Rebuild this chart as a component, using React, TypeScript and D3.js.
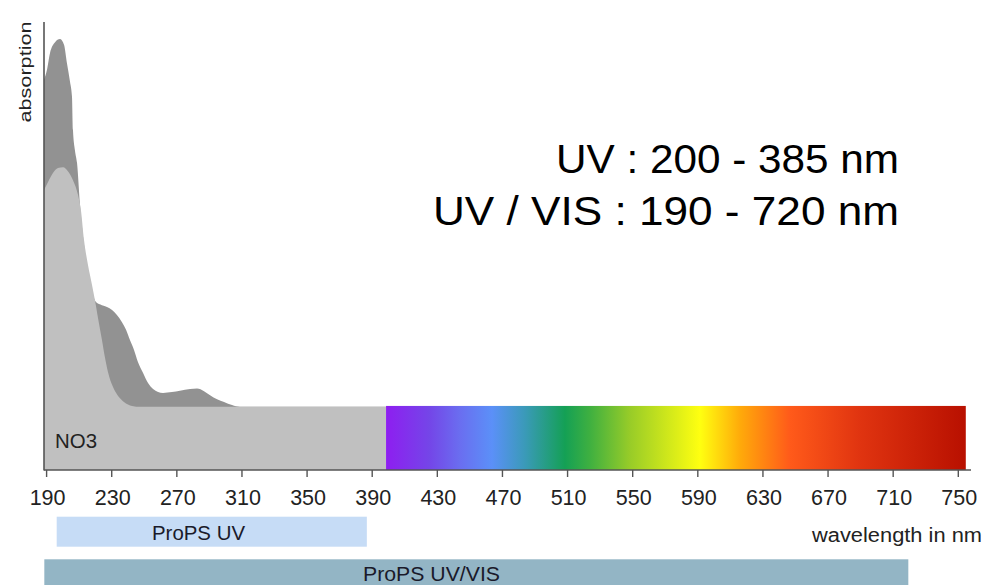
import React from "react";
import * as d3 from "d3";

const W = 985;
const H = 585;

// X axis tick labels (wavelength, nm)
const tickValues = [190, 230, 270, 310, 350, 390, 430, 470, 510, 550, 590, 630, 670, 710, 750];

// Outer (dark) absorption curve
const darkWavelengths = [188.4, 190.2, 192.1, 195.2, 198.2, 200.7, 202.5, 204.4, 205.6, 206.2, 207.4, 208.7, 210.5, 213.0, 215.4, 217.9, 220.3, 224.0, 227.1, 230.2, 233.2, 236.3, 238.8, 241.2, 243.7, 246.1, 249.2, 252.3, 255.4, 261.5, 267.0, 271.9, 278.1, 282.4, 286.7, 290.4, 294.7, 299.0, 303.9, 308.8, 398.5];
const darkAbsorption = [87.1, 89.3, 93.1, 95.5, 96.2, 94.9, 90.8, 86.6, 83.3, 75.9, 71.4, 68.5, 59.2, 50.2, 43.5, 39.7, 37.5, 36.8, 36.4, 35.7, 34.6, 33.0, 31.3, 29.0, 26.8, 24.1, 21.7, 19.4, 18.1, 17.2, 17.4, 17.7, 18.1, 18.2, 17.6, 16.7, 15.8, 15.2, 14.5, 14.1, 14.1];

// Inner (light, NO3) absorption curve
const lightWavelengths = [188.4, 190.9, 193.9, 197.0, 200.1, 203.1, 206.2, 209.3, 211.1, 213.0, 215.4, 217.9, 219.7, 221.6, 224.0, 225.9, 227.7, 230.8, 233.9, 237.5, 242.5, 247.4, 398.5];
const lightAbsorption = [62.5, 64.3, 66.3, 67.4, 67.6, 66.7, 64.7, 61.4, 58.0, 51.3, 45.8, 41.3, 37.9, 33.9, 29.0, 25.0, 21.9, 18.5, 16.5, 15.2, 14.3, 14.1, 14.1];

// Visible spectrum band
const spectrumStart = 398.5;
const spectrumEnd = 754.6;
const spectrumTop = 14.3;
const spectrumStops = [398.5, 425.5, 444, 463.6, 483.9, 508.4, 523.8, 548.4, 591.4, 616, 646.6, 689.6, 754.6];
const spectrumColors = ["#8e1ef0", "#7446e8", "#6a6ef0", "#5b90f8", "#3a9ab8", "#14a055", "#3fb040", "#98cc28", "#ffff10", "#ffaa0a", "#ff5a1a", "#e03410", "#b81000"];

// Instrument ranges
const instrumentNames = ["ProPS UV", "ProPS UV/VIS"];
const instrumentFrom = [196.2, 188.6];
const instrumentTo = [386.7, 719.3];

export default function App() {
  const x = d3.scaleLinear().domain([190, 750]).range([46.6, 958.3]);
  const y = d3.scaleLinear().domain([0, 100]).range([470, 22]);

  const darkData = darkWavelengths.map((w, i) => [w, darkAbsorption[i]] as [number, number]);
  const lightData = lightWavelengths.map((w, i) => [w, lightAbsorption[i]] as [number, number]);

  const area = d3
    .area<[number, number]>()
    .x((d) => x(d[0]))
    .y0(y(0))
    .y1((d) => y(d[1]))
    .curve(d3.curveMonotoneX);

  const gx0 = x(spectrumStart);
  const gx1 = x(spectrumEnd);

  const barY = [516.7, 559.3];
  const barH = [30, 30];
  const barColors = ["#c6dcf6", "#93b5c5"];
  const font = "'Liberation Sans', Arial, sans-serif";

  return (
    <svg width={W} height={H} style={{ position: "absolute", left: 0, top: 0, background: "#fff" }}>
      <defs>
        <linearGradient id="spec" gradientUnits="userSpaceOnUse" x1={gx0} x2={gx1} y1={0} y2={0}>
          {spectrumStops.map((s, i) => (
            <stop key={i} offset={(x(s) - gx0) / (gx1 - gx0)} stopColor={spectrumColors[i]} />
          ))}
        </linearGradient>
      </defs>

      <path d={area(darkData) || ""} fill="#929292" />
      <path d={area(lightData) || ""} fill="#c0c0c0" />

      <rect x={gx0} y={y(spectrumTop)} width={gx1 - gx0} height={y(0) - y(spectrumTop)} fill="url(#spec)" />

      {/* axes */}
      <line x1={44} x2={44} y1={22} y2={470.5} stroke="#555" strokeWidth={1.6} />
      <line x1={44} x2={971} y1={470} y2={470} stroke="#555" strokeWidth={1.6} />
      {tickValues.map((t) => (
        <g key={t}>
          <line x1={x(t)} x2={x(t)} y1={470} y2={477} stroke="#555" strokeWidth={1.4} />
          <text x={x(t) + 1} y={505} textAnchor="middle" fontSize={21.5} fontFamily={font} fill="#222">
            {t}
          </text>
        </g>
      ))}

      <text
        transform="translate(31,72) rotate(-90)"
        textAnchor="middle"
        fontSize={17}
        fontFamily={font}
        fill="#222"
        textLength={101}
        lengthAdjust="spacingAndGlyphs"
      >
        absorption
      </text>

      <text x={55} y={448} fontSize={21} fontFamily={font} fill="#222" textLength={42} lengthAdjust="spacingAndGlyphs">
        NO3
      </text>

      <text x={812} y={542} fontSize={19.5} fontFamily={font} fill="#222" textLength={170} lengthAdjust="spacingAndGlyphs">
        wavelength in nm
      </text>

      <text x={899} y={173} textAnchor="end" fontSize={40} fontFamily={font} fill="#000" textLength={343} lengthAdjust="spacingAndGlyphs">
        UV : 200 - 385 nm
      </text>
      <text x={899} y={225} textAnchor="end" fontSize={40} fontFamily={font} fill="#000" textLength={466} lengthAdjust="spacingAndGlyphs">
        UV / VIS : 190 - 720 nm
      </text>

      {instrumentNames.map((n, i) => {
        const a = x(instrumentFrom[i]);
        const b = x(instrumentTo[i]);
        return (
          <g key={n}>
            <rect x={a} y={barY[i]} width={b - a} height={barH[i]} fill={barColors[i]} />
          </g>
        );
      })}
      <text x={198.5} y={539.5} textAnchor="middle" fontSize={21} fontFamily={font} fill="#1a1a2a" textLength={93} lengthAdjust="spacingAndGlyphs">
        {instrumentNames[0]}
      </text>
      <text x={431.5} y={581} textAnchor="middle" fontSize={21} fontFamily={font} fill="#1a1a2a" textLength={137} lengthAdjust="spacingAndGlyphs">
        {instrumentNames[1]}
      </text>
    </svg>
  );
}
